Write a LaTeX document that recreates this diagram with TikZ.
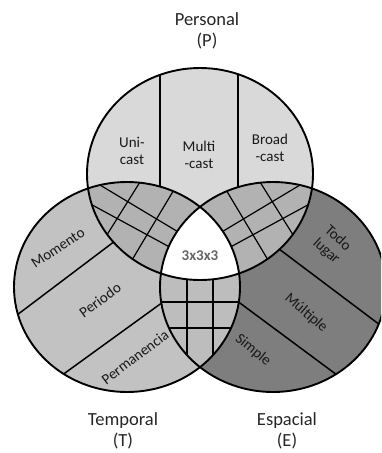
\documentclass[tikz,border=0pt]{standalone}
\usepackage{fontspec}
\setmainfont{Carlito}
\definecolor{Pcol}{HTML}{D9D9D9}
\definecolor{Tcol}{HTML}{C2C2C2}
\definecolor{Ecol}{HTML}{7E7E7E}
\definecolor{PTcol}{HTML}{B2B2B2}
\definecolor{TEcol}{HTML}{BDBDBD}
\definecolor{midcol}{HTML}{666666}
\begin{document}
\begin{tikzpicture}[x=1pt,y=-1pt,
  Pshape/.style={insert path={(200,174) ellipse [x radius=113, y radius=106]}},
  Tshape/.style={insert path={(127,287) ellipse [x radius=113, y radius=105]}},
  Eshape/.style={insert path={(273,287) ellipse [x radius=113, y radius=105]}},
  outline/.style={draw=black, line width=1.9pt},
  divider/.style={draw=black, line width=1.5pt},
  gridline/.style={draw=black, line width=1.2pt},
  biglab/.style={font=\fontsize{18.5}{21.5}\selectfont, align=center, text=black!85},
  inlab/.style={font=\fontsize{15}{17}\selectfont, align=center, text=black!90, inner sep=0pt},
  midlab/.style={font=\fontsize{15}{17}\selectfont\bfseries, text=midcol, inner sep=0pt}
]
\useasboundingbox (0,0) rectangle (381,453);
\begin{scope}
\clip (0,0) rectangle (381,453);
% base fills
\fill[Tcol, Tshape];
\fill[Ecol, Eshape];
\fill[Pcol, Pshape];
% dividers of P
\begin{scope}
  \clip[Pshape];
  \draw[divider] (160,50) -- (160,300);
  \draw[divider] (238,50) -- (238,300);
\end{scope}
% dividers of T
\begin{scope}
  \clip[Tshape];
  \draw[divider] (-30,350.5) -- (158,208.5);
  \draw[divider] (16,408.5) -- (212,266.5);
\end{scope}
% dividers of E
\begin{scope}
  \clip[Eshape];
  \draw[divider] (236,216.6) -- (430,362.6);
  \draw[divider] (188,264.5) -- (430,444);
\end{scope}
% lenses
\begin{scope}\clip[Pshape]; \fill[PTcol, Tshape]; \end{scope}
\begin{scope}\clip[Pshape]; \fill[PTcol, Eshape]; \end{scope}
\begin{scope}\clip[Tshape]; \fill[TEcol, Eshape]; \end{scope}
% grid P-T
\begin{scope}
  \clip[Pshape]; \clip[Tshape];
  \draw[gridline] (60,161) -- (220,257);
  \draw[gridline] (50,182) -- (210,269);
  \draw[gridline] (155,158) -- (95,254);
  \draw[gridline] (190,163) -- (120,280);
\end{scope}
% grid P-E (mirror)
\begin{scope}
  \clip[Pshape]; \clip[Eshape];
  \draw[gridline] (340,161) -- (180,257);
  \draw[gridline] (350,182) -- (190,269);
  \draw[gridline] (245,158) -- (305,254);
  \draw[gridline] (210,163) -- (280,280);
\end{scope}
% grid T-E
\begin{scope}
  \clip[Tshape]; \clip[Eshape];
  \draw[gridline] (187,200) -- (187,380);
  \draw[gridline] (213,200) -- (213,380);
  \draw[gridline] (150,302) -- (250,302);
  \draw[gridline] (150,328) -- (250,328);
\end{scope}
% triple intersection
\begin{scope}\clip[Pshape]; \clip[Tshape]; \fill[white, Eshape]; \end{scope}
% outlines
\draw[outline, Tshape];
\draw[outline, Eshape];
\draw[outline, Pshape];
\end{scope}
% labels
\node[biglab] (lP) at (207,31) {Personal\\(P)};
\node[biglab] (lT) at (123,431) {Temporal\\(T)};
\node[biglab] (lE) at (287,431) {Espacial\\(E)};
\node[inlab] (uni) at (132,151) {Uni-\\cast};
\node[inlab] (multi) at (199,155) {Multi\\-cast};
\node[inlab] (broad) at (270,148) {Broad\\-cast};
\node[inlab, rotate=34] (mom) at (58,248) {Momento};
\node[inlab, rotate=36] (per) at (100,300) {Periodo};
\node[inlab, rotate=37] (perm) at (135,357) {Permanencia};
\node[inlab, rotate=-42] (todo) at (332,245) {Todo\\lugar};
\node[inlab, rotate=-41] (mult) at (306,313) {Múltiple};
\node[inlab, rotate=-39] (simp) at (253,350) {Simple};
\node[midlab] (ttt) at (200,256) {3x3x3};
\end{tikzpicture}
\end{document}
